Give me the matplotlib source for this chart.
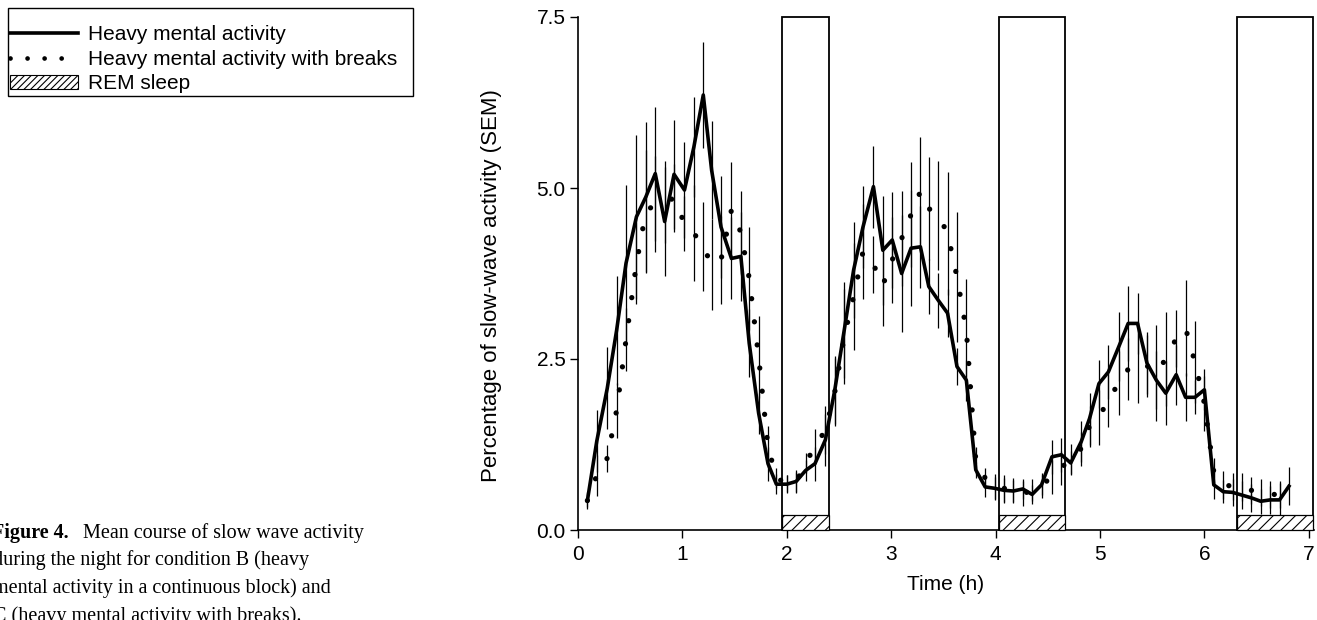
import matplotlib
matplotlib.use("Agg")
import numpy as np
import matplotlib.pyplot as plt
from matplotlib.lines import Line2D
from matplotlib.patches import Patch, Rectangle

plt.rcParams["font.family"] = ["Liberation Sans", "DejaVu Sans"]
plt.rcParams["hatch.linewidth"] = 0.8

# time of each epoch (h)
times = [0.09, 0.18, 0.28, 0.37, 0.46, 0.56, 0.65, 0.74, 0.83, 0.92, 1.02, 1.11,
         1.20, 1.28, 1.37, 1.47, 1.56, 1.64, 1.73, 1.82, 1.90, 2.00, 2.09, 2.18,
         2.27, 2.37, 2.46, 2.55, 2.64, 2.73, 2.83, 2.92, 3.01, 3.10, 3.19, 3.28,
         3.36, 3.45, 3.54, 3.63, 3.72, 3.81, 3.90, 3.99, 4.08, 4.17, 4.26, 4.35,
         4.44, 4.54, 4.63, 4.72, 4.82, 4.90, 4.99, 5.08, 5.18, 5.27, 5.36, 5.45,
         5.54, 5.63, 5.73, 5.82, 5.91, 6.00, 6.09, 6.18, 6.27, 6.36, 6.45, 6.54,
         6.63, 6.72, 6.81]

# condition B: heavy mental activity (continuous block)
heavy = [0.43, 1.30, 2.07, 2.92, 3.90, 4.58, 4.87, 5.21, 4.51, 5.20, 4.97, 5.60,
         6.36, 5.26, 4.43, 3.97, 4.00, 2.73, 1.71, 0.97, 0.67, 0.67, 0.71, 0.87,
         0.97, 1.32, 2.05, 2.92, 3.80, 4.43, 5.02, 4.09, 4.24, 3.75, 4.12, 4.14,
         3.56, 3.36, 3.17, 2.39, 2.19, 0.88, 0.63, 0.61, 0.58, 0.57, 0.60, 0.52,
         0.66, 1.07, 1.10, 0.98, 1.29, 1.63, 2.14, 2.31, 2.68, 3.02, 3.02, 2.44,
         2.19, 2.00, 2.27, 1.94, 1.94, 2.05, 0.66, 0.56, 0.55, 0.51, 0.47, 0.42,
         0.44, 0.44, 0.64]
heavy_sem = [0.12, 0.45, 0.60, 0.80, 1.15, 1.20, 1.10, 0.98, 0.80, 0.80, 0.70, 0.73,
             0.77, 0.72, 0.75, 0.60, 0.65, 0.50, 0.30, 0.25, 0.15, 0.13, 0.17, 0.16,
             0.25, 0.38, 0.50, 0.70, 0.70, 0.60, 0.60, 0.80, 0.70, 0.85, 0.85, 0.60,
             0.40, 0.40, 0.35, 0.27, 0.30, 0.12, 0.15, 0.17, 0.18, 0.16, 0.15, 0.14,
             0.15, 0.25, 0.25, 0.17, 0.30, 0.38, 0.35, 0.40, 0.50, 0.55, 0.45, 0.45,
             0.42, 0.47, 0.44, 0.35, 0.25, 0.30, 0.20, 0.17, 0.20, 0.20, 0.20, 0.18,
             0.20, 0.25, 0.28]

# condition C: heavy mental activity with breaks
breaks = [0.43, 0.80, 1.05, 1.75, 2.78, 3.90, 4.65, 4.77, 4.80, 4.85, 4.48, 4.34,
          4.14, 3.88, 3.95, 4.68, 4.35, 3.68, 2.53, 1.22, 0.76, 0.68, 0.70, 0.98,
          1.22, 1.46, 2.02, 2.83, 3.41, 4.07, 3.88, 3.58, 3.95, 4.26, 4.61, 4.95,
          4.70, 4.60, 4.34, 3.70, 2.92, 1.02, 0.76, 0.64, 0.61, 0.58, 0.53, 0.58,
          0.65, 0.78, 0.91, 1.04, 1.19, 1.52, 1.65, 1.90, 2.15, 2.35, 2.45, 2.40,
          2.30, 2.50, 2.80, 2.95, 2.45, 1.85, 0.85, 0.66, 0.64, 0.63, 0.58, 0.55,
          0.52, 0.52, np.nan]
breaks_sem = [0.10, 0.30, 0.20, 0.40, 0.46, 0.60, 0.90, 0.70, 0.60, 0.50, 0.40, 0.70,
              0.65, 0.66, 0.64, 0.70, 0.60, 0.75, 0.60, 0.30, 0.15, 0.13, 0.15, 0.15,
              0.25, 0.35, 0.50, 0.70, 0.78, 0.70, 0.42, 0.60, 0.63, 0.70, 0.77, 0.80,
              0.75, 0.80, 0.90, 0.95, 0.75, 0.20, 0.15, 0.18, 0.20, 0.18, 0.18, 0.16,
              0.18, 0.25, 0.25, 0.22, 0.25, 0.30, 0.40, 0.40, 0.47, 0.45, 0.60, 0.45,
              0.70, 0.69, 0.42, 0.70, 0.60, 0.40, 0.20, 0.20, 0.20, 0.20, 0.20, 0.20,
              0.20, 0.20, np.nan]

# REM sleep periods (h)
rem_start = [1.95, 4.03, 6.31]
rem_end = [2.40, 4.665, 7.04]
rem_bar = 0.22

fig = plt.figure(figsize=(13.17, 6.2), dpi=100)
ax = fig.add_axes([578 / 1317, 90 / 620, 736 / 1317, 513 / 620])

ax.errorbar(times, heavy, yerr=heavy_sem, fmt="none", ecolor="black",
            elinewidth=0.9, zorder=2)
ax.errorbar(times, breaks, yerr=breaks_sem, fmt="none", ecolor="black",
            elinewidth=0.9, zorder=2)
ax.plot(times, heavy, color="black", lw=2.6, zorder=5)
ax.plot(times, breaks, color="black", lw=3.8, linestyle=(0, (0.01, 4.4)),
        dash_capstyle="round", zorder=5)

for s, e in zip(rem_start, rem_end):
    ax.add_patch(Rectangle((s, 0), e - s, 7.5, fill=False, ec="black", lw=1.3,
                           clip_on=False, zorder=3))
    ax.add_patch(Rectangle((s, 0), e - s, rem_bar, facecolor="white",
                           ec="black", hatch="///", lw=0.9, clip_on=False, zorder=4))

ax.set_xlim(0, 7.05)
ax.set_ylim(0, 7.5)
ax.set_xticks(range(8))
ax.set_yticks([0, 2.5, 5.0, 7.5])
ax.set_yticklabels(["0.0", "2.5", "5.0", "7.5"])
ax.spines["top"].set_visible(False)
ax.spines["right"].set_visible(False)
for sp in ("left", "bottom"):
    ax.spines[sp].set_linewidth(1.2)
ax.tick_params(direction="out", length=6, width=1, labelsize=15)
ax.tick_params(axis="y", pad=3)
ax.tick_params(axis="x", pad=5)
ax.set_xlabel("Time (h)", fontsize=15, labelpad=8)
ax.set_ylabel("Percentage of slow-wave activity (SEM)", fontsize=16)
ax.yaxis.set_label_coords(-0.103, (530 - 286) / 513)

# legend: frame drawn separately so the padding matches the original
fig.patches.append(Rectangle((8 / 1317, 1 - 96 / 620), 405 / 1317, 88 / 620,
                             transform=fig.transFigure, fill=False,
                             ec="black", lw=1.0))
handles = [
    Line2D([], [], color="black", lw=2.6),
    Line2D([], [], color="black", lw=3.4, linestyle=(0, (0.01, 3.6)),
           dash_capstyle="round"),
    Patch(facecolor="white", edgecolor="black", hatch="/////", lw=0.8),
]
labels = ["Heavy mental activity", "Heavy mental activity with breaks", "REM sleep"]
fig.legend(handles, labels, loc="upper left",
           bbox_to_anchor=(10 / 1317, 1 - 25 / 620), fontsize=15,
           frameon=False, borderpad=0, borderaxespad=0, labelspacing=0.27,
           handlelength=3.27, handleheight=0.6, handletextpad=0.45)

# figure caption (cut at the left edge in the original)
serif = ["Liberation Serif", "DejaVu Serif"]
fig.text(-8 / 1317, 1 - 538 / 620, "Figure 4.", family=serif, fontsize=14.5,
         fontweight="bold", va="baseline")
fig.text(83 / 1317, 1 - 538 / 620, "Mean course of slow wave activity",
         family=serif, fontsize=14.5, va="baseline")
fig.text(-7 / 1317, 1 - 565 / 620, "during the night for condition B (heavy",
         family=serif, fontsize=14.5, va="baseline")
fig.text(-7 / 1317, 1 - 593 / 620, "mental activity in a continuous block) and",
         family=serif, fontsize=14.5, va="baseline")
fig.text(-7 / 1317, 1 - 621 / 620, "C (heavy mental activity with breaks).",
         family=serif, fontsize=14.5, va="baseline")

fig.savefig("out.png", dpi=100)
